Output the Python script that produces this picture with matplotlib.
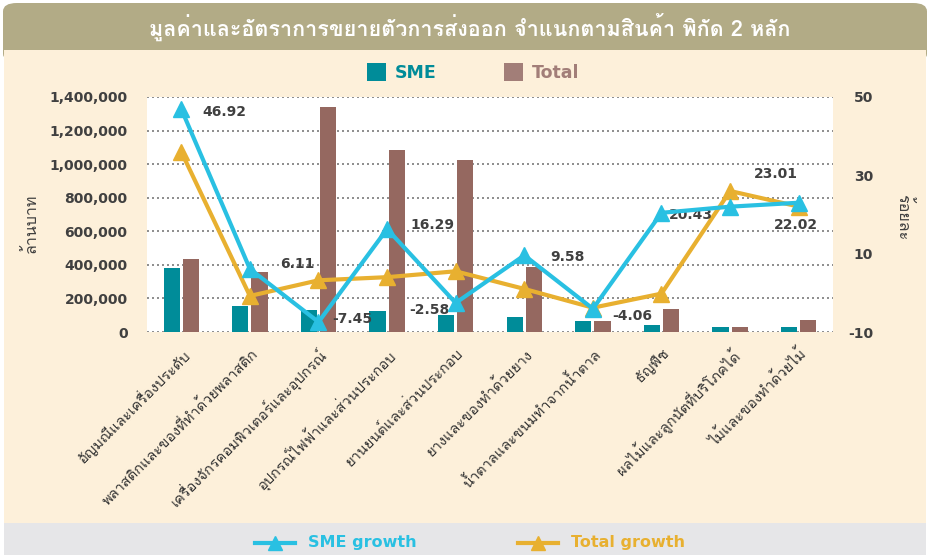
import matplotlib
matplotlib.use("Agg")
import matplotlib.pyplot as plt
from matplotlib.patches import Rectangle, FancyBboxPatch
from matplotlib.lines import Line2D
from matplotlib import font_manager
from matplotlib.ft2font import FT2Font

# data
categories = [
    "อัญมณีและเครื่องประดับ",
    "พลาสติกและของที่ทำด้วยพลาสติก",
    "เครื่องจักรคอมพิวเตอร์และอุปกรณ์",
    "อุปกรณ์ไฟฟ้าและส่วนประกอบ",
    "ยานยนต์และส่วนประกอบ",
    "ยางและของทำด้วยยาง",
    "น้ำตาลและขนมทำจากน้ำตาล",
    "ธัญพืช",
    "ผลไม้และลูกนัตที่บริโภคได้",
    "ไม้และของทำด้วยไม้",
]
sme_value = [381000, 155000, 131000, 125000, 101000, 89000, 65000, 42000, 30000, 30000]
total_value = [434000, 357000, 1339000, 1083000, 1024000, 387000, 65000, 137000, 30000, 71000]
sme_growth = [46.92, 6.11, -7.45, 16.29, -2.58, 9.58, -4.06, 20.43, 22.0, 23.01]
total_growth = [36.0, -0.8, 3.2, 4.0, 5.5, 1.0, -3.8, -0.2, 26.0, 22.02]
left_ticks = [0, 200000, 400000, 600000, 800000, 1000000, 1200000, 1400000]
right_ticks = [-10, 10, 30, 50]


def thai_family():
    for f in font_manager.fontManager.ttflist:
        try:
            ft = FT2Font(f.fname)
            if ft.get_char_index(ord("ก")) and ft.get_char_index(ord("1")):
                return f.name
        except Exception:
            pass
    return "DejaVu Sans"


thai = thai_family()
plt.rcParams["font.family"] = [thai, "DejaVu Sans"]

W, H = 930, 555
fig = plt.figure(figsize=(9.3, 5.55), dpi=100)


def box(x0, y0, x1, y1):
    return (x0 / W, 1 - y1 / H, (x1 - x0) / W, (y1 - y0) / H)


# backgrounds
bx = box(3, 3, 927, 62)
fig.patches.append(FancyBboxPatch((bx[0], bx[1]), bx[2], bx[3],
                                  boxstyle="round,pad=0,rounding_size=0.015",
                                  transform=fig.transFigure, fc="#B2AB86", ec="none", zorder=-10))
bx = box(4, 50, 926, 523)
fig.patches.append(Rectangle((bx[0], bx[1]), bx[2], bx[3], transform=fig.transFigure,
                             fc="#FDF0DA", ec="none", zorder=-9))
bx = box(4, 523, 926, 555)
fig.patches.append(Rectangle((bx[0], bx[1]), bx[2], bx[3], transform=fig.transFigure,
                             fc="#E6E6E8", ec="none", zorder=-9))

fig.text(470 / W, 1 - 27 / H, "มูลค่าและอัตราการขยายตัวการส่งออก จำแนกตามสินค้า พิกัด 2 หลัก",
         color="white", fontsize=15.5, fontweight="bold", ha="center", va="center")

ax = fig.add_axes(box(147, 97, 833, 332))
ax.set_facecolor("white")
x = list(range(len(categories)))
teal = "#008C99"
brown = "#956860"
ax.bar([i - 0.14 for i in x], sme_value, width=0.235, color=teal, zorder=2)
ax.bar([i + 0.14 for i in x], total_value, width=0.235, color=brown, zorder=2)
ax.set_xlim(-0.5, 9.5)
ax.set_ylim(0, 1400000)
ax.set_yticks(left_ticks)
ax.set_yticklabels([f"{v:,}" for v in left_ticks], fontsize=10, fontweight="bold",
                   color="#404040", family="DejaVu Sans")
ax.grid(axis="y", linestyle=(0, (1.2, 1.8)), color="#7a7a7a", linewidth=1.2, zorder=0)
ax.set_axisbelow(True)
for s in ax.spines.values():
    s.set_visible(False)
ax.tick_params(axis="y", length=0, pad=14)
ax.tick_params(axis="x", length=0, pad=10)
ax.set_xticks(x)
ax.set_xticklabels(categories, rotation=45, ha="right", va="top",
                   rotation_mode="anchor", fontsize=10.5, color="#333333")

ax2 = ax.twinx()
ax2.set_ylim(-10, 50)
ax2.set_yticks(right_ticks)
ax2.set_yticklabels([str(v) for v in right_ticks], fontsize=10, fontweight="bold",
                    color="#404040", family="DejaVu Sans")
for lab in ax2.get_yticklabels():
    lab.set_ha("right")
ax2.tick_params(axis="y", length=0, pad=29)
for s in ax2.spines.values():
    s.set_visible(False)

cyan = "#29C0E2"
gold = "#E8B030"
ax2.plot(x, total_growth, color=gold, lw=3, marker="^", ms=11, zorder=3)
ax2.plot(x, sme_growth, color=cyan, lw=3, marker="^", ms=11, zorder=4)

# data labels (offsets in pixels from the point)
sme_offsets = [(43, -3), (47, 5), (34, 3), (45, 4), (-26, -7), (43, -2), (39, -7), (29, -2), None, (-23, 29)]
for i, off in enumerate(sme_offsets):
    if off is None:
        continue
    ax2.annotate(f"{sme_growth[i]:.2f}", (x[i], sme_growth[i]), xytext=off,
                 textcoords="offset pixels", ha="center", va="center",
                 fontsize=10, fontweight="bold", color="#404040", family="DejaVu Sans")
ax2.annotate(f"{total_growth[9]:.2f}", (x[9], total_growth[9]), xytext=(-3, -18),
             textcoords="offset pixels", ha="center", va="center",
             fontsize=10, fontweight="bold", color="#404040", family="DejaVu Sans")

fig.text(31 / W, 1 - 223 / H, "ล้านบาท", rotation=90, ha="center", va="center",
         fontsize=11.5, color="#404040")
fig.text(903 / W, 1 - 217 / H, "ร้อยละ", rotation=270, ha="center", va="center",
         fontsize=11.5, color="#404040")

# top legend
for x0, col, tcol, lab in [(367, teal, teal, "SME"), (504, "#A27E78", "#A27E78", "Total")]:
    bx = box(x0, 63, x0 + 19, 81)
    fig.patches.append(Rectangle((bx[0], bx[1]), bx[2], bx[3], transform=fig.transFigure,
                                 fc=col, ec="none"))
    fig.text((x0 + 28) / W, 1 - 73 / H, lab, color=tcol, fontsize=12.5, fontweight="bold",
             ha="left", va="center", family="DejaVu Sans")

# bottom legend
for x0, col, lab in [(255, cyan, "SME growth"), (518, gold, "Total growth")]:
    fig.lines.append(Line2D([x0 / W, (x0 + 40) / W], [1 - 543 / H] * 2, transform=fig.transFigure,
                            color=col, lw=3))
    fig.lines.append(Line2D([(x0 + 20) / W], [1 - 543 / H], transform=fig.transFigure,
                            color=col, marker="^", ms=10))
    fig.text((x0 + 53) / W, 1 - 543 / H, lab, color=col, fontsize=11.5, fontweight="bold",
             ha="left", va="center", family="DejaVu Sans")

fig.savefig("out.png", dpi=100)
